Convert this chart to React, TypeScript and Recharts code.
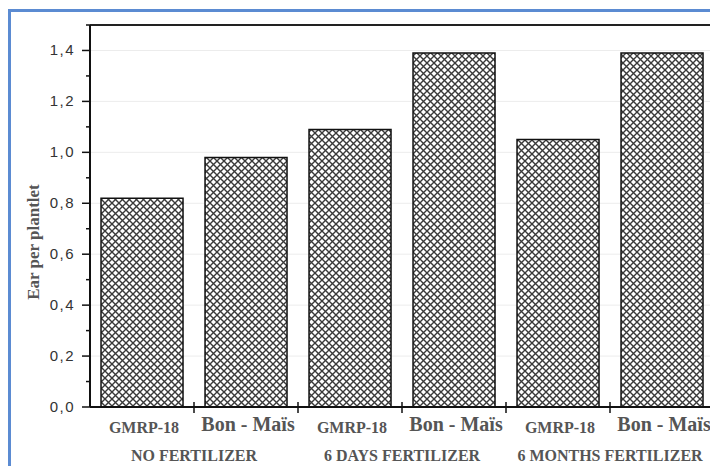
import React from 'react';
import { BarChart, Bar, XAxis, YAxis, CartesianGrid, ReferenceLine } from 'recharts';

const varieties = ['GMRP-18', 'Bon - Maïs', 'GMRP-18', 'Bon - Maïs', 'GMRP-18', 'Bon - Maïs'];
const treatments = ['NO FERTILIZER', 'NO FERTILIZER', '6 DAYS FERTILIZER', '6 DAYS FERTILIZER', '6 MONTHS FERTILIZER', '6 MONTHS FERTILIZER'];
const earPerPlantlet = [0.82, 0.98, 1.09, 1.39, 1.05, 1.39];
const yTicks = [0, 0.1, 0.2, 0.3, 0.4, 0.5, 0.6, 0.7, 0.8, 0.9, 1.0, 1.1, 1.2, 1.3, 1.4, 1.5];
const yMajor = [0, 0.2, 0.4, 0.6, 0.8, 1.0, 1.2, 1.4];

const data = varieties.map((v, i) => ({ id: i, variety: v, treatment: treatments[i], value: earPerPlantlet[i] }));

const CHART_W = 730;
const CHART_H = 466;
const MARGIN = { top: 25, right: 16, left: 0, bottom: 0 };
const Y_W = 90;
const X_H = 59;
const band = (CHART_W - MARGIN.left - MARGIN.right - Y_W) / data.length;

const serif = '"Liberation Serif", "Times New Roman", serif';
const sans = '"Liberation Sans", Arial, sans-serif';

const XTick = (props: any) => {
  const { x, y, index } = props;
  const d = data[index];
  const isBon = d.variety.startsWith('Bon');
  const showGroup = index % 2 === 0;
  return (
    <g>
      {index < data.length - 1 && (
        <line x1={x + band / 2} x2={x + band / 2} y1={y - 5} y2={y + 6} stroke="#111" strokeWidth={1.5} />
      )}
      <text
        x={x + 2}
        y={isBon ? y + 24 : y + 26}
        textAnchor="middle"
        fontFamily={serif}
        fontWeight="bold"
        fontSize={isBon ? 20 : 16}
        fill="#555"
      >
        {d.variety}
      </text>
      {showGroup && (
        <text x={x + band / 2} y={y + 54} textAnchor="middle" fontFamily={serif} fontWeight="bold" fontSize={16} fill="#555">
          {d.treatment}
        </text>
      )}
    </g>
  );
};

const YTick = (props: any) => {
  const { x, y, payload } = props;
  const v = Math.round(payload.value * 10) / 10;
  const major = Math.round(v * 10) % 2 === 0;
  return (
    <g>
      <line x1={x - (major ? 8 : 4)} x2={x} y1={y} y2={y} stroke="#111" strokeWidth={1.5} />
      {major && (
        <text x={x - 15} y={y + 5} textAnchor="end" fontFamily={sans} fontSize={15} letterSpacing={1.5} fill="#333">
          {v.toFixed(1).replace('.', ',')}
        </text>
      )}
    </g>
  );
};

const YLabel = (props: any) => {
  const { viewBox } = props;
  const cx = 33;
  const cy = viewBox.y + viewBox.height / 2 + 26;
  return (
    <text
      x={cx}
      y={cy}
      transform={`rotate(-90 ${cx} ${cy})`}
      textAnchor="middle"
      dominantBaseline="central"
      fontFamily={serif}
      fontWeight="bold"
      fontSize={17}
      fill="#555"
    >
      Ear per plantlet
    </text>
  );
};

export default function App() {
  return (
    <div style={{ position: 'fixed', left: 0, top: 0, width: 710, height: 466, overflow: 'hidden', background: '#fff' }}>
      <div
        style={{
          position: 'absolute',
          left: 8,
          top: 9,
          width: 800,
          height: 600,
          border: '3px solid #5b8bd2',
          boxSizing: 'border-box',
        }}
      />
      <div style={{ position: 'absolute', left: 0, top: 0 }}>
        <BarChart width={CHART_W} height={CHART_H} data={data} margin={MARGIN} barCategoryGap="10.6%">
          <defs>
            <pattern id="crosshatch" patternUnits="userSpaceOnUse" width={7} height={7}>
              <rect width={7} height={7} fill="#fff" />
              <path d="M0,0 L7,7 M7,0 L0,7" stroke="#3a3a3a" strokeWidth={1.4} />
            </pattern>
          </defs>
          <CartesianGrid vertical={false} horizontalValues={yMajor} stroke="#ececec" />
          <XAxis
            dataKey="id"
            type="category"
            height={X_H}
            interval={0}
            tick={<XTick />}
            tickLine={false}
            tickSize={0}
            tickMargin={0}
            axisLine={{ stroke: '#111', strokeWidth: 2 }}
          />
          <YAxis
            type="number"
            domain={[0, 1.5]}
            ticks={yTicks}
            interval={0}
            width={Y_W}
            tick={<YTick />}
            tickLine={false}
            tickSize={0}
            tickMargin={0}
            axisLine={{ stroke: '#111', strokeWidth: 2 }}
            label={<YLabel />}
          />
          <ReferenceLine y={1.5} stroke="#222" strokeWidth={2} />
          <Bar dataKey="value" fill="url(#crosshatch)" stroke="#111" strokeWidth={1.5} isAnimationActive={false} />
        </BarChart>
      </div>
    </div>
  );
}
